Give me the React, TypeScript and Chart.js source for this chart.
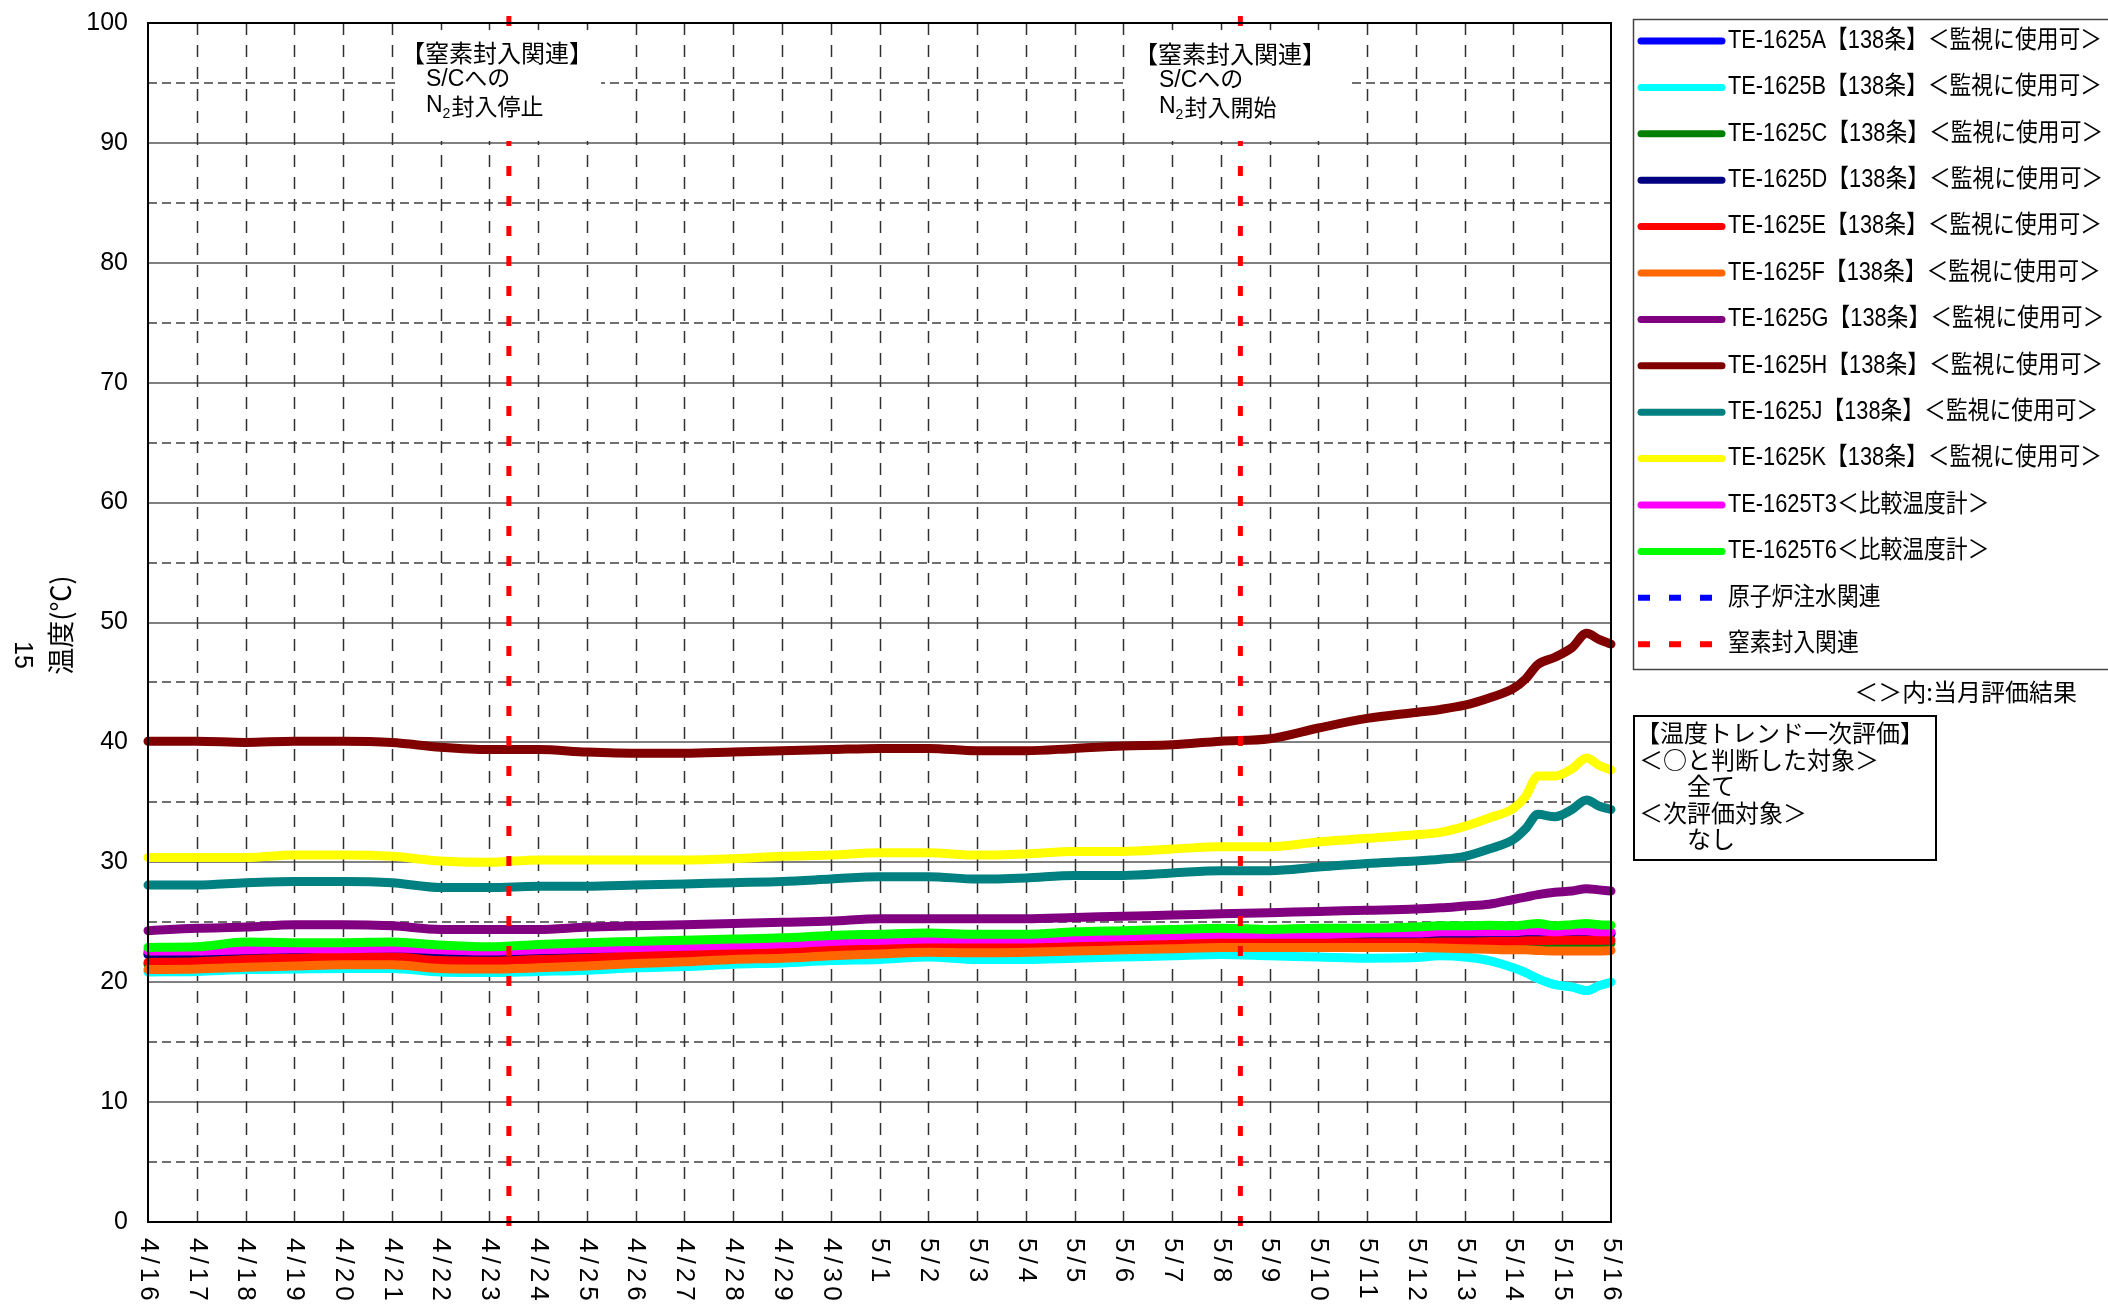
import { useEffect, useRef } from 'react';
import { Chart, registerables } from 'chart.js';
Chart.register(...registerables);

const W = 2108;
const H = 1306;

// time in days from 4/16 0:00
const times = [0, 1, 2, 3, 4, 5, 6, 7, 8, 9, 10, 11, 12, 13, 14, 15, 16, 17, 18, 19, 20, 21, 22, 23, 24, 25, 26,
  26.5, 27, 27.5, 28, 28.25, 28.5, 28.85, 29.2, 29.5, 29.75, 30];

const dayLabels = ['4/16', '4/17', '4/18', '4/19', '4/20', '4/21', '4/22', '4/23', '4/24', '4/25', '4/26', '4/27', '4/28', '4/29', '4/30',
  '5/1', '5/2', '5/3', '5/4', '5/5', '5/6', '5/7', '5/8', '5/9', '5/10', '5/11', '5/12', '5/13', '5/14', '5/15', '5/16'];

const yTicks = [0, 10, 20, 30, 40, 50, 60, 70, 80, 90, 100];

const teA = [22.4, 22.45, 22.5, 22.6, 22.6, 22.7, 22.5, 22.4, 22.45, 22.55, 22.7, 22.8, 22.9, 23.0, 23.2, 23.3, 23.4, 23.4, 23.4, 23.5, 23.6, 23.7, 23.8, 23.8, 23.8, 23.9, 23.9,
  23.95, 24.0, 24.0, 24.0, 24.05, 24.1, 24.1, 24.1, 24.15, 24.1, 24.1];
const teB = [20.85, 20.9, 21.05, 21.1, 21.15, 21.15, 20.85, 20.8, 20.9, 21.0, 21.2, 21.3, 21.5, 21.6, 21.8, 21.9, 22.1, 21.9, 21.9, 22.0, 22.1, 22.2, 22.3, 22.2, 22.1, 22.0, 22.05,
  22.2, 22.1, 21.8, 21.2, 20.8, 20.3, 19.8, 19.6, 19.3, 19.7, 20.0];
const teC = [21.5, 21.55, 21.75, 21.85, 21.95, 21.95, 21.65, 21.6, 21.75, 21.85, 22.05, 22.15, 22.35, 22.45, 22.65, 22.75, 22.85, 22.85, 22.85, 22.95, 23.05, 23.15, 23.25, 23.15, 23.1, 23.1, 23.1,
  23.1, 23.1, 23.15, 23.15, 23.2, 23.2, 23.2, 23.2, 23.25, 23.25, 23.25];
const teD = [22.3, 22.35, 22.4, 22.5, 22.5, 22.6, 22.4, 22.3, 22.35, 22.45, 22.6, 22.7, 22.8, 22.9, 23.1, 23.2, 23.3, 23.3, 23.3, 23.4, 23.5, 23.6, 23.7, 23.7, 23.7, 23.8, 23.8,
  23.85, 23.9, 23.9, 23.9, 23.95, 24.0, 24.0, 24.0, 24.05, 24.0, 24.0];
const teE = [21.65, 21.7, 21.9, 22.0, 22.1, 22.1, 21.8, 21.75, 21.9, 22.0, 22.2, 22.3, 22.5, 22.6, 22.8, 22.9, 23.0, 23.0, 23.0, 23.1, 23.2, 23.3, 23.4, 23.3, 23.3, 23.3, 23.3,
  23.35, 23.35, 23.4, 23.4, 23.45, 23.45, 23.5, 23.5, 23.5, 23.5, 23.5];
const teF = [21.05, 21.1, 21.25, 21.35, 21.45, 21.45, 21.15, 21.1, 21.2, 21.35, 21.55, 21.7, 21.9, 22.0, 22.2, 22.35, 22.5, 22.45, 22.5, 22.6, 22.7, 22.8, 22.9, 22.9, 22.9, 22.9, 22.9,
  22.85, 22.8, 22.75, 22.7, 22.7, 22.65, 22.6, 22.6, 22.6, 22.6, 22.65];
const teG = [24.3, 24.5, 24.6, 24.8, 24.8, 24.7, 24.4, 24.4, 24.4, 24.6, 24.7, 24.8, 24.9, 25.0, 25.1, 25.3, 25.3, 25.3, 25.3, 25.4, 25.5, 25.6, 25.7, 25.8, 25.9, 26.0, 26.1,
  26.2, 26.35, 26.5, 26.9, 27.1, 27.3, 27.5, 27.6, 27.8, 27.7, 27.6];
const teH = [40.1, 40.1, 40.0, 40.1, 40.1, 40.0, 39.6, 39.4, 39.4, 39.2, 39.1, 39.1, 39.2, 39.3, 39.4, 39.5, 39.5, 39.3, 39.3, 39.5, 39.7, 39.8, 40.1, 40.3, 41.2, 42.0, 42.5,
  42.75, 43.1, 43.7, 44.5, 45.3, 46.5, 47.1, 47.9, 49.1, 48.6, 48.2];
const teJ = [28.1, 28.1, 28.3, 28.4, 28.4, 28.3, 27.9, 27.9, 28.0, 28.0, 28.1, 28.2, 28.3, 28.4, 28.6, 28.8, 28.8, 28.6, 28.7, 28.9, 28.9, 29.1, 29.3, 29.3, 29.6, 29.9, 30.1,
  30.25, 30.5, 31.1, 31.9, 32.8, 34.0, 33.8, 34.4, 35.2, 34.7, 34.4];
const teK = [30.4, 30.4, 30.4, 30.6, 30.6, 30.5, 30.1, 30.0, 30.2, 30.2, 30.2, 30.2, 30.3, 30.5, 30.6, 30.8, 30.8, 30.6, 30.7, 30.9, 30.9, 31.1, 31.3, 31.3, 31.7, 32.0, 32.3,
  32.5, 33.0, 33.7, 34.5, 35.5, 37.2, 37.2, 37.8, 38.7, 38.1, 37.7];
const teT3 = [22.6, 22.6, 22.7, 22.8, 22.8, 22.85, 22.7, 22.6, 22.7, 22.8, 22.9, 23.0, 23.1, 23.2, 23.4, 23.5, 23.6, 23.6, 23.6, 23.7, 23.8, 23.9, 24.0, 24.0, 24.0, 24.1, 24.1,
  24.2, 24.2, 24.2, 24.2, 24.3, 24.3, 24.2, 24.3, 24.3, 24.2, 24.2];
const teT6 = [22.9, 22.95, 23.35, 23.3, 23.3, 23.35, 23.1, 22.95, 23.15, 23.3, 23.4, 23.5, 23.6, 23.7, 23.9, 24.0, 24.1, 24.0, 24.0, 24.2, 24.3, 24.4, 24.5, 24.4, 24.5, 24.5, 24.6,
  24.7, 24.7, 24.75, 24.7, 24.8, 24.9, 24.7, 24.8, 24.9, 24.8, 24.75];

const seriesLabels = [
  'TE-1625A【138条】＜監視に使用可＞',
  'TE-1625B【138条】＜監視に使用可＞',
  'TE-1625C【138条】＜監視に使用可＞',
  'TE-1625D【138条】＜監視に使用可＞',
  'TE-1625E【138条】＜監視に使用可＞',
  'TE-1625F【138条】＜監視に使用可＞',
  'TE-1625G【138条】＜監視に使用可＞',
  'TE-1625H【138条】＜監視に使用可＞',
  'TE-1625J【138条】＜監視に使用可＞',
  'TE-1625K【138条】＜監視に使用可＞',
  'TE-1625T3＜比較温度計＞',
  'TE-1625T6＜比較温度計＞',
];
const seriesColors = ['#0000FF', '#00FFFF', '#008000', '#000080', '#FF0000', '#FF6600', '#800080', '#800000', '#008080', '#FFFF00', '#FF00FF', '#00FF00'];
const seriesValues = [teA, teB, teC, teD, teE, teF, teG, teH, teJ, teK, teT3, teT6];

// event lines (days from 4/16 0:00)
const injectionEvents: number[] = [];
const nitrogenEvents = [7.4, 22.4];
const eventLegend = [
  { label: '原子炉注水関連', color: '#0000FF' },
  { label: '窒素封入関連', color: '#FF0000' },
];
const eventNotes = [
  { head: '【窒素封入関連】', line2: 'S/Cへの', line3: '封入停止' },
  { head: '【窒素封入関連】', line2: 'S/Cへの', line3: '封入開始' },
];
const evalLines = ['【温度トレンド一次評価】', '＜○と判断した対象＞', '　　全て', '＜次評価対象＞', '　　なし'];

const LAT = "'Liberation Sans', 'Noto Sans CJK JP', sans-serif";
const JP = "'Noto Sans CJK JP', sans-serif";

const customPlugin = {
  id: 'customDraw',
  beforeDatasetsDraw(chart: any) {
    const { ctx, chartArea: a, scales } = chart;
    const x = scales.x, y = scales.y;
    ctx.save();
    for (let v = 5; v < 100; v += 5) {
      const py = Math.round(y.getPixelForValue(v));
      ctx.beginPath();
      if (v % 10 === 0) {
        ctx.setLineDash([]);
        ctx.strokeStyle = '#808080';
        ctx.lineWidth = 2;
      } else {
        ctx.setLineDash([9, 5]);
        ctx.strokeStyle = '#404040';
        ctx.lineWidth = 1.5;
      }
      ctx.moveTo(a.left, py);
      ctx.lineTo(a.right, py);
      ctx.stroke();
    }
    ctx.setLineDash([12, 10]);
    ctx.strokeStyle = '#303030';
    ctx.lineWidth = 1.5;
    for (let d = 1; d < dayLabels.length - 1; d++) {
      const px = Math.round(x.getPixelForValue(d)) + 0.5;
      ctx.beginPath();
      ctx.moveTo(px, a.top);
      ctx.lineTo(px, a.bottom);
      ctx.stroke();
    }
    ctx.restore();
  },
  afterDatasetsDraw(chart: any) {
    const { ctx, chartArea: a, scales } = chart;
    const x = scales.x;
    ctx.save();
    // event lines
    const drawEvents = (list: number[], color: string) => {
      ctx.setLineDash([10, 20]);
      ctx.strokeStyle = color;
      ctx.lineWidth = 5;
      for (const t of list) {
        const px = x.getPixelForValue(t);
        ctx.beginPath();
        ctx.moveTo(px, a.top - 7);
        ctx.lineTo(px, a.bottom + 6);
        ctx.stroke();
      }
    };
    drawEvents(injectionEvents, '#0000FF');
    drawEvents(nitrogenEvents, '#FF0000');
    ctx.setLineDash([]);

    // annotation boxes
    const boxes = [
      { x0: 397, x1: 601, tx: 401, tx2: 426, dy: 0 },
      { x0: 1128, x1: 1350, tx: 1134, tx2: 1159, dy: 1 },
    ];
    boxes.forEach((b, i) => {
      ctx.fillStyle = '#FFFFFF';
      ctx.fillRect(b.x0, a.top + 7, b.x1 - b.x0, 111);
      ctx.fillStyle = '#000';
      ctx.textBaseline = 'middle';
      ctx.textAlign = 'left';
      ctx.font = `24px ${JP}`;
      ctx.fillText(eventNotes[i].head, b.tx, 53 + b.dy);
      ctx.font = `23px ${LAT}`;
      ctx.fillText(eventNotes[i].line2, b.tx2, 80 + b.dy);
      ctx.fillText('N', b.tx2, 106 + b.dy);
      const nw = ctx.measureText('N').width;
      ctx.font = `14px ${LAT}`;
      ctx.fillText('2', b.tx2 + nw, 114 + b.dy);
      const tw = ctx.measureText('2').width;
      ctx.font = `23px ${JP}`;
      ctx.fillText(eventNotes[i].line3, b.tx2 + nw + tw + 1, 106 + b.dy);
    });

    // plot border
    ctx.strokeStyle = '#000';
    ctx.lineWidth = 2;
    ctx.strokeRect(a.left, a.top, a.right - a.left, a.bottom - a.top);

    // x labels (rotated clockwise)
    ctx.fillStyle = '#000';
    ctx.font = `26px ${LAT}`;
    (ctx as any).letterSpacing = '4px';
    ctx.textAlign = 'left';
    ctx.textBaseline = 'middle';
    dayLabels.forEach((lab, d) => {
      const px = x.getPixelForValue(d);
      ctx.save();
      ctx.translate(px, a.bottom + 16);
      ctx.rotate(Math.PI / 2);
      ctx.fillText(lab, 0, 0);
      ctx.restore();
    });
    (ctx as any).letterSpacing = '0px';

    // y title
    ctx.save();
    ctx.translate(61, 625);
    ctx.rotate(-Math.PI / 2);
    ctx.textAlign = 'center';
    ctx.font = `27px ${JP}`;
    ctx.fillText('温度(℃)', 0, 0);
    ctx.restore();
    ctx.save();
    ctx.translate(22, 655);
    ctx.rotate(Math.PI / 2);
    ctx.textAlign = 'center';
    ctx.font = `25px ${LAT}`;
    ctx.fillText('15', 0, 0);
    ctx.restore();

    // legend
    ctx.strokeStyle = '#444';
    ctx.lineWidth = 1.5;
    ctx.strokeRect(1633.5, 19.5, 600, 650);
    ctx.font = `25px ${LAT}`;
    const sx = Math.min(1, 374 / ctx.measureText(seriesLabels[0]).width);
    const rowY = (i: number) => 41 + i * 46.4;
    const ds = chart.data.datasets;
    ctx.lineCap = 'round';
    ds.forEach((d: any, i: number) => {
      const yy = rowY(i);
      ctx.strokeStyle = d.borderColor;
      ctx.lineWidth = 7;
      ctx.beginPath();
      ctx.moveTo(1641, yy);
      ctx.lineTo(1722, yy);
      ctx.stroke();
      ctx.save();
      ctx.translate(1728, yy);
      ctx.scale(sx, 1);
      ctx.fillStyle = '#000';
      ctx.textAlign = 'left';
      ctx.fillText(d.label, 0, 0);
      ctx.restore();
    });
    ctx.lineCap = 'butt';
    eventLegend.forEach((e, k) => {
      const yy = rowY(ds.length + k);
      ctx.strokeStyle = e.color;
      ctx.lineWidth = 6;
      ctx.setLineDash([12, 19]);
      ctx.beginPath();
      ctx.moveTo(1638, yy);
      ctx.lineTo(1713, yy);
      ctx.stroke();
      ctx.setLineDash([]);
      ctx.save();
      ctx.translate(1728, yy);
      ctx.scale(sx, 1);
      ctx.fillStyle = '#000';
      ctx.fillText(e.label, 0, 0);
      ctx.restore();
    });

    // note
    ctx.fillStyle = '#000';
    ctx.font = `24px ${JP}`;
    ctx.textAlign = 'right';
    ctx.fillText('＜＞内:当月評価結果', 2077, 692);

    // evaluation box
    ctx.strokeStyle = '#000';
    ctx.lineWidth = 2;
    ctx.strokeRect(1634, 716, 302, 144);
    ctx.textAlign = 'left';
    ctx.font = `24px ${JP}`;
    evalLines.forEach((t, i) => {
      ctx.fillText(t, i === 0 ? 1636 : 1639, 733 + i * 26.5);
    });
    ctx.restore();
  },
};

export default function App() {
  const ref = useRef<HTMLCanvasElement>(null);
  useEffect(() => {
    const order = seriesValues.length;
    const datasets = seriesValues.map((vals, i) => ({
      label: seriesLabels[i],
      data: vals.map((v, k) => ({ x: times[k], y: v })),
      borderColor: seriesColors[i],
      backgroundColor: seriesColors[i],
      borderWidth: 9,
      pointRadius: 0,
      fill: false,
      cubicInterpolationMode: 'monotone' as const,
      borderCapStyle: 'round' as const,
      borderJoinStyle: 'round' as const,
      order: order - i,
      clip: false as any,
    }));
    const noPad = (s: any) => { s.paddingTop = 0; s.paddingBottom = 0; s.paddingLeft = 0; s.paddingRight = 0; };
    const chart = new Chart(ref.current as HTMLCanvasElement, {
      type: 'line',
      data: { datasets },
      plugins: [customPlugin],
      options: {
        animation: false,
        responsive: false,
        devicePixelRatio: 1,
        layout: { padding: { top: 23, right: 497, bottom: 84, left: 0 } },
        plugins: { legend: { display: false }, tooltip: { enabled: false } },
        scales: {
          x: {
            type: 'linear',
            min: 0,
            max: dayLabels.length - 1,
            ticks: { display: false, stepSize: 1 },
            grid: { display: false, drawTicks: false },
            border: { display: false },
            afterFit: (s: any) => { s.height = 0; noPad(s); },
          },
          y: {
            type: 'linear',
            min: yTicks[0],
            max: yTicks[yTicks.length - 1],
            afterBuildTicks: (s: any) => { s.ticks = yTicks.map((v) => ({ value: v })); },
            ticks: { color: '#000', padding: 20, font: { size: 25, family: LAT } },
            grid: { display: false, drawTicks: false },
            border: { display: false },
            afterFit: (s: any) => { s.width = 148; noPad(s); },
          },
        },
      } as any,
    });
    return () => chart.destroy();
  }, []);
  return (
    <div style={{ position: 'fixed', left: 0, top: 0, width: W, height: H, background: '#fff' }}>
      <canvas ref={ref} width={W} height={H} style={{ display: 'block', width: W, height: H }} />
    </div>
  );
}
